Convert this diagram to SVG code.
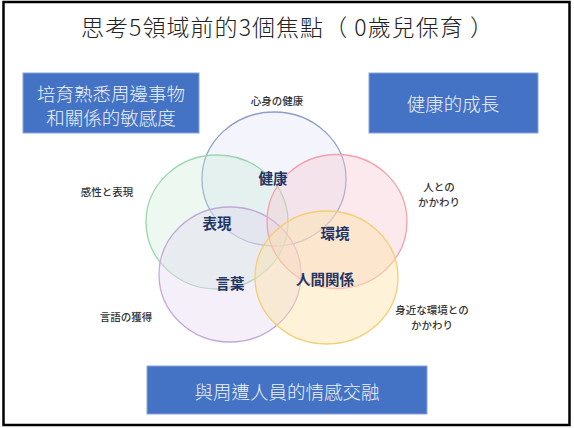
<svg xmlns="http://www.w3.org/2000/svg" width="574" height="428" viewBox="0 0 574 428">
<style>
.box{fill:#4472c4;stroke:#8aa4d8;stroke-width:1}
.bt{font-family:"Noto Sans CJK TC","Noto Sans CJK SC",sans-serif;font-size:18.5px;fill:#eef2fa;text-anchor:middle;dominant-baseline:central;font-weight:300}
.in{font-family:"Noto Sans CJK JP","Noto Sans CJK TC",sans-serif;font-size:14.5px;font-weight:bold;fill:#1f3566;text-anchor:middle;dominant-baseline:central}
.out{font-family:"Noto Sans CJK JP",sans-serif;font-size:10.5px;fill:#333;text-anchor:middle;dominant-baseline:central;font-weight:500}
.c{stroke-width:1.3}
</style>
<rect x="3.5" y="2" width="566" height="423" fill="#fff" stroke="#000" stroke-width="2.5"/>
<text x="287" y="26" textLength="412" lengthAdjust="spacing" style="font-family:'Noto Sans CJK TC','Noto Sans CJK SC',sans-serif;font-size:23px;fill:#222;text-anchor:middle;dominant-baseline:central;font-weight:300">思考5領域前的3個焦點（ 0歲兒保育 ）</text>
<g id="box-sensitivity"><rect class="box" x="23" y="73" width="176" height="60"/><text class="bt" x="111" y="93">培育熟悉周邊事物</text><text class="bt" x="111" y="117">和關係的敏感度</text></g>
<g id="box-health"><rect class="box" x="369" y="73" width="169" height="60"/><text class="bt" x="453" y="103">健康的成長</text></g>
<g id="box-emotion"><rect class="box" x="147" y="366" width="280" height="48"/><text class="bt" x="287" y="391">與周遭人員的情感交融</text></g>
<g id="circles">
<g id="c-health"><ellipse class="c" cx="274" cy="179" rx="72" ry="67" fill="#dfe3f6" fill-opacity="0.35" stroke="#8e9cc8"/></g>
<g id="c-expression"><ellipse class="c" cx="217" cy="222" rx="71" ry="67" fill="#c9ecd5" fill-opacity="0.35" stroke="#9ad6ae"/></g>
<g id="c-words"><ellipse class="c" cx="230" cy="274.5" rx="71" ry="67.5" fill="#e4d6f0" fill-opacity="0.4" stroke="#c2a8d8"/></g>
<g id="c-environment"><ellipse class="c" cx="337" cy="221.5" rx="70" ry="67" fill="#f8c8d2" fill-opacity="0.4" stroke="#f3a0aa"/></g>
<g id="c-relations"><ellipse class="c" cx="326.5" cy="277.5" rx="71.5" ry="66.5" fill="#fde2a8" fill-opacity="0.45" stroke="#f6cd72"/></g>
</g>
<g id="labels">
<text class="in" x="273" y="177">健康</text>
<text class="in" x="217" y="222">表現</text>
<text class="in" x="335" y="232">環境</text>
<text class="in" x="230" y="282">言葉</text>
<text class="in" x="325" y="278">人間関係</text>
<text class="out" x="277" y="100">心身の健康</text>
<text class="out" x="107" y="191">感性と表現</text>
<text class="out" x="439" y="186">人との</text>
<text class="out" x="439" y="201">かかわり</text>
<text class="out" x="126" y="316">言語の獲得</text>
<text class="out" x="432" y="309">身近な環境との</text>
<text class="out" x="432" y="324">かかわり</text>
</g>
<g id="connectors"/>
</svg>
